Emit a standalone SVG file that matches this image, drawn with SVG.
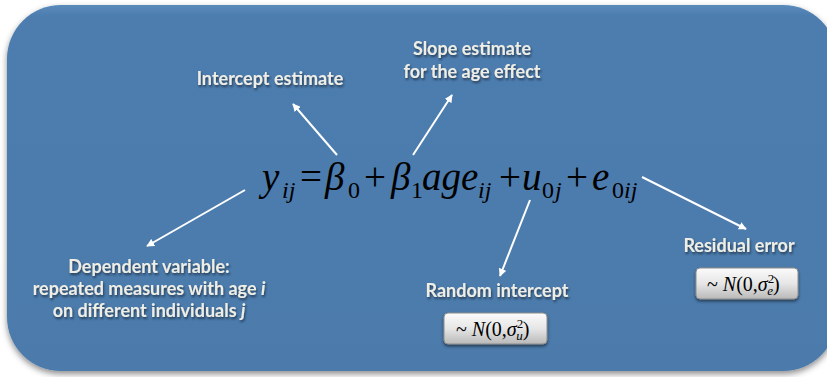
<svg xmlns="http://www.w3.org/2000/svg" width="827" height="377" viewBox="0 0 827 377">
<defs>
<linearGradient id="panelG" x1="0" y1="0" x2="0" y2="1">
<stop offset="0" stop-color="#5a8bbb"/>
<stop offset="0.03" stop-color="#4d7daf"/>
<stop offset="1" stop-color="#4b7aab"/>
</linearGradient>
<linearGradient id="boxG" x1="0" y1="0" x2="0" y2="1">
<stop offset="0" stop-color="#fbfbfb"/>
<stop offset="0.5" stop-color="#e6e6e6"/>
<stop offset="1" stop-color="#b9b9b9"/>
</linearGradient>
<filter id="panelShadow" x="-5%" y="-5%" width="110%" height="115%">
<feDropShadow dx="0" dy="3" stdDeviation="3" flood-color="#000" flood-opacity="0.45"/>
</filter>
<filter id="txtShadow" x="-10%" y="-30%" width="120%" height="160%">
<feDropShadow dx="1" dy="2" stdDeviation="1.3" flood-color="#1a2a3a" flood-opacity="0.75"/>
</filter>
<filter id="boxShadow" x="-10%" y="-20%" width="120%" height="150%">
<feDropShadow dx="0" dy="2" stdDeviation="1.5" flood-color="#000" flood-opacity="0.5"/>
</filter>
<marker id="ah" viewBox="0 0 10 10" refX="9" refY="5" markerWidth="4" markerHeight="4" orient="auto" markerUnits="strokeWidth">
<path d="M0,0 L10,5 L0,10 Z" fill="#ffffff"/>
</marker>
</defs>
<style>
.lbl{font-family:"Lato","Open Sans","Liberation Sans",sans-serif;font-weight:bold;font-size:18px;fill:#eeeee6;text-anchor:middle;filter:url(#txtShadow)}
.eq{font-family:"Liberation Serif","Times New Roman",serif;fill:#000;font-size:39px}
.it{font-style:italic}
.sub{font-size:24px}
.box{fill:url(#boxG);stroke:#8c8c8c;stroke-width:1;filter:url(#boxShadow)}
.btxt{font-family:"Liberation Serif","Times New Roman",serif;font-size:20px;fill:#000}
.sm{font-size:13px}
.arr{stroke:#ffffff;stroke-width:2;fill:none;marker-end:url(#ah)}
</style>
<rect width="827" height="377" fill="#ffffff"/>
<g id="panel">
<rect x="7" y="5" width="830" height="366" rx="54" ry="54" fill="url(#panelG)" filter="url(#panelShadow)"/>
</g>
<g id="equation">
<text class="eq it" x="262" y="190" font-size="41">y</text>
<text class="eq it sub" x="282" y="198">ij</text>
<text class="eq" x="300" y="190">=</text>
<text class="eq it" x="325" y="190">β</text>
<text class="eq sub" x="348" y="198">0</text>
<text class="eq" x="364" y="190">+</text>
<text class="eq it" x="391" y="190">β</text>
<text class="eq sub" x="411" y="198">1</text>
<text class="eq it" x="422" y="190">age</text>
<text class="eq it sub" x="478" y="198">ij</text>
<text class="eq" x="499" y="190">+</text>
<text class="eq it" x="522" y="190">u</text>
<text class="eq sub" x="542" y="198">0</text>
<text class="eq it sub" x="555" y="198">j</text>
<text class="eq" x="566" y="190">+</text>
<text class="eq it" x="592" y="190">e</text>
<text class="eq sub" x="612" y="198">0</text>
<text class="eq it sub" x="624" y="198">ij</text>
</g>
<g id="connectors">
<line class="arr" x1="337" y1="155" x2="293" y2="104"/>
<line class="arr" x1="413" y1="155" x2="452" y2="95"/>
<line class="arr" x1="245" y1="190" x2="147" y2="246"/>
<line class="arr" x1="530" y1="200" x2="500" y2="276"/>
<line class="arr" x1="642" y1="177" x2="746" y2="229"/>
</g>
<g id="intercept">
<text class="lbl" x="270" y="85">Intercept estimate</text>
</g>
<g id="slope">
<text class="lbl" x="472" y="55">Slope estimate</text>
<text class="lbl" x="472" y="78">for the age effect</text>
</g>
<g id="dependent">
<text class="lbl" x="149" y="273">Dependent variable:</text>
<text class="lbl" x="149" y="295">repeated measures with age <tspan font-style="italic">i</tspan></text>
<text class="lbl" x="149" y="317">on different individuals <tspan font-style="italic">j</tspan></text>
</g>
<g id="random">
<text class="lbl" x="497" y="297">Random intercept</text>
<rect class="box" x="444" y="313" width="103" height="31" rx="4"/>
<text class="btxt" x="456" y="336">~ <tspan font-style="italic">N</tspan>(0,<tspan font-style="italic">σ</tspan><tspan class="sm" dy="-8">2</tspan><tspan class="sm" font-style="italic" dx="-7" dy="12">u</tspan><tspan dy="-4">)</tspan></text>
</g>
<g id="residual">
<text class="lbl" x="739" y="252">Residual error</text>
<rect class="box" x="696" y="268" width="102" height="31" rx="4"/>
<text class="btxt" x="707" y="291">~ <tspan font-style="italic">N</tspan>(0,<tspan font-style="italic">σ</tspan><tspan class="sm" dy="-8">2</tspan><tspan class="sm" font-style="italic" dx="-7" dy="12">e</tspan><tspan dy="-4">)</tspan></text>
</g>
</svg>
